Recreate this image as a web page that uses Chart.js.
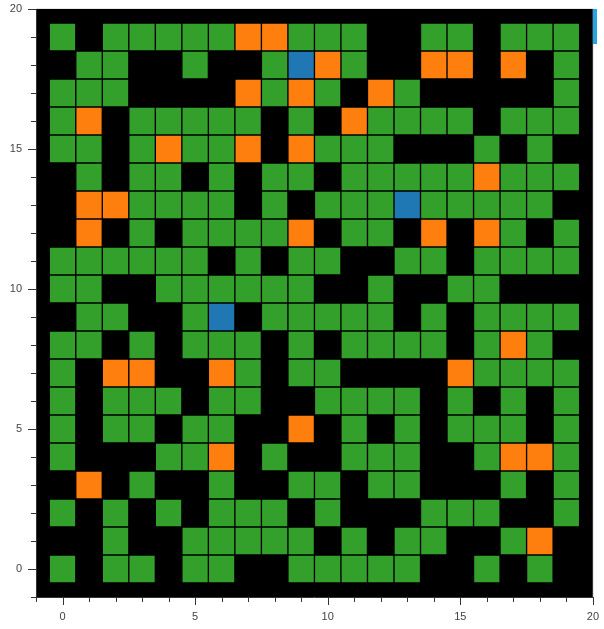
<!DOCTYPE html>
<html>
<head>
<meta charset="utf-8">
<script src="https://cdn.jsdelivr.net/npm/chart.js@4"></script>
<style>
  html, body { margin: 0; padding: 0; background: #fff; }
  #wrap { position: relative; width: 604px; height: 629px; }
  #toolbarMark { position: absolute; left: 593px; top: 9px; width: 4px; height: 35px; background: #26a4e4; }
</style>
</head>
<body>
<div id="wrap">
  <canvas id="gridChart" width="604" height="629"></canvas>
  <div id="toolbarMark"></div>
</div>
<script>
// Grid rows, top (y = 19) to bottom (y = 0); G = green, O = orange, B = blue, . = empty
const rows = [
    "G.GGGGGOOGGG..GG.GGG",
    ".GG..G..GBOG..OO.O.G",
    "GGG....OGOG.OG.....G",
    "GO.GGGGG.G.OGGGG.GGG",
    "GG.GOGGO.OGGG...G.G.",
    ".G.GG.G.GG.GGGGGOGGG",
    ".OOGGGG.G.GGGBGGGGG.",
    ".O.G.GGGGO.GG.O.OG.G",
    "GGGGGG.G.GG..GG.GGGG",
    "GG..GGGGGG..G..GG...",
    ".GG..GB.GGGGG.G.GGGG",
    "GG.G.GGG.G.GGGG.GOG.",
    "G.OO..OG.GG....OGGGG",
    "G.GGG.GG..GGGG.G.G.G",
    "G.GG.GG..O.G.G.GGG.G",
    "G...GGO.G..GGG..GOOG",
    ".O.G..G..GG.GG...G.G",
    "G.G.G.GGG.G...GGG..G",
    "..G..GGGGG.G.GG..GO.",
    "G.GG.GG..GGGGG..G.G.",
];
const cellCodes = ["G", "O", "B"];
const cellColors = ["#33a02c", "#ff7f0e", "#1f77b4"];
const axisMin = -1;
const axisMax = 20;
const majorStep = 5;

// Build one floating-bar dataset per cell colour
const datasets = cellCodes.map((code, k) => {
    const data = [];
    rows.forEach((row, r) => {
        const y = rows.length - 1 - r;
        for (let x = 0; x < row.length; x++) {
            if (row[x] === code) data.push({ x: x, y: [y - 0.5, y + 0.5] });
        }
    });
    return {
        data: data,
        backgroundColor: cellColors[k],
        borderColor: "rgba(0,0,0,0.85)",
        borderWidth: 1,
        borderSkipped: false,
        grouped: false,
        barPercentage: 1,
        categoryPercentage: 1,
    };
});

// Black plot area, light outline on top/right, major + minor ticks
const framePlugin = {
    id: "frame",
    beforeDraw(chart) {
        const { ctx, chartArea: a } = chart;
        ctx.save();
        ctx.fillStyle = "#000";
        ctx.fillRect(a.left, a.top, a.right - a.left, a.bottom - a.top);
        ctx.restore();
    },
    afterDraw(chart) {
        const { ctx, chartArea: a } = chart;
        const xs = chart.scales.x, ys = chart.scales.y;
        ctx.save();
        ctx.strokeStyle = "#e5e5e5";
        ctx.lineWidth = 1;
        ctx.beginPath();
        ctx.moveTo(a.left, a.top - 0.5);
        ctx.lineTo(a.right + 0.5, a.top - 0.5);
        ctx.lineTo(a.right + 0.5, a.bottom);
        ctx.stroke();

        ctx.strokeStyle = "#333";
        ctx.beginPath();
        for (let v = axisMin; v <= axisMax; v++) {
            const len = v % majorStep === 0 ? 8 : 5;
            const px = Math.round(xs.getPixelForValue(v)) + 0.5;
            ctx.moveTo(px, a.bottom);
            ctx.lineTo(px, a.bottom + len);
            const py = Math.round(ys.getPixelForValue(v)) + 0.5;
            ctx.moveTo(a.left, py);
            ctx.lineTo(a.left - len, py);
        }
        ctx.stroke();
        ctx.restore();
    },
};

const tickFont = { family: "'Liberation Sans', Arial, sans-serif", size: 11 };

const ctx = document.getElementById("gridChart").getContext("2d");
const gridChart = new Chart(ctx, {
    type: "bar",
    data: { datasets: datasets },
    options: {
        responsive: false,
        animation: false,
        devicePixelRatio: 1,
        layout: { padding: { top: 9, right: 11, left: 0, bottom: 0 } },
        plugins: {
            legend: { display: false },
            tooltip: { enabled: false },
        },
        scales: {
            x: {
                type: "linear",
                min: axisMin,
                max: axisMax,
                offset: false,
                grid: { display: true, drawOnChartArea: false, offset: false, tickLength: 8, tickColor: "transparent" },
                border: { display: true, color: "#333" },
                ticks: {
                    stepSize: 1,
                    autoSkip: false,
                    maxRotation: 0,
                    padding: 5,
                    color: "#444",
                    font: tickFont,
                    callback: (v) => (v % majorStep === 0 ? String(v) : ""),
                },
                afterFit(scale) { scale.height = 32; },
            },
            y: {
                type: "linear",
                min: axisMin,
                max: axisMax,
                grid: { display: true, drawOnChartArea: false, tickLength: 8, tickColor: "transparent" },
                border: { display: true, color: "#333" },
                ticks: {
                    stepSize: 1,
                    autoSkip: false,
                    padding: 6,
                    color: "#444",
                    font: { ...tickFont, lineHeight: 0.4 },
                    callback: (v) => (v % majorStep === 0 ? String(v) : ""),
                },
                afterFit(scale) { scale.width = 36; },
            },
        },
    },
    plugins: [framePlugin],
});
</script>
</body>
</html>
